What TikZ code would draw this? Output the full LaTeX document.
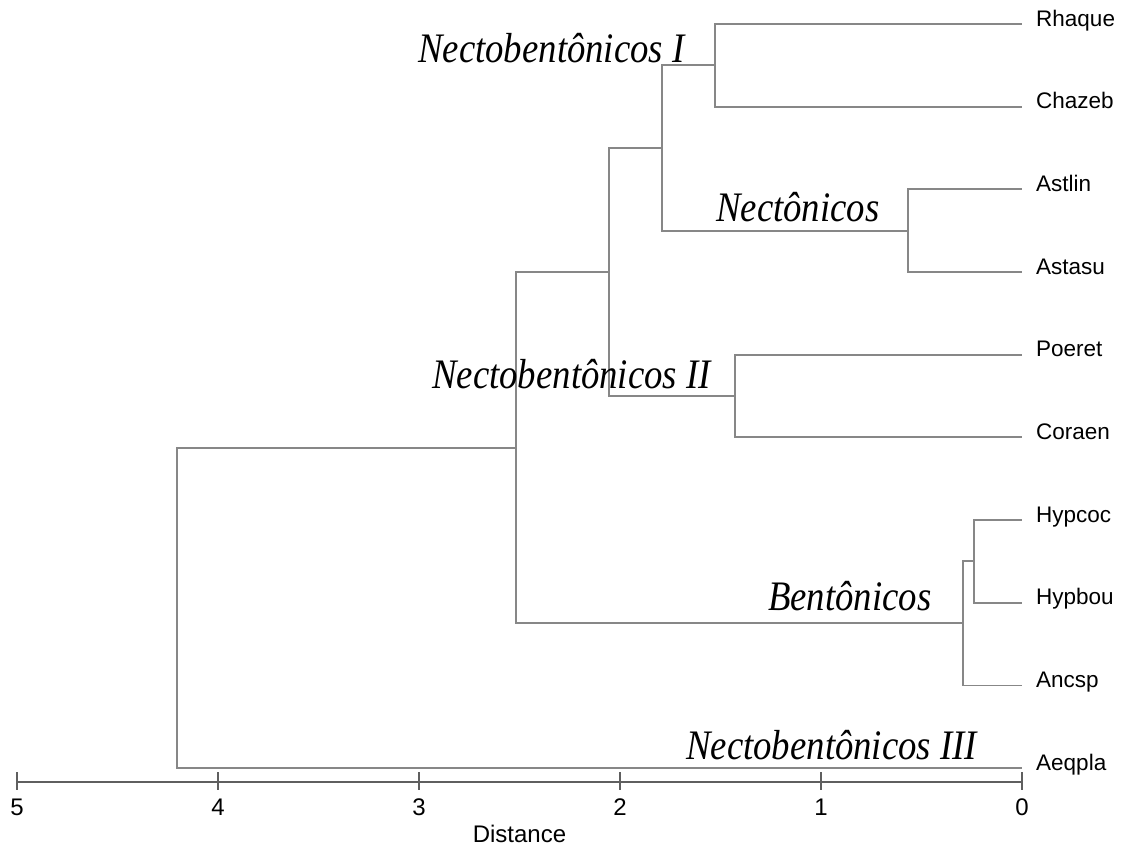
\documentclass[tikz,border=0pt]{standalone}
\usepackage{fontspec}
\setmainfont{Liberation Serif}
\setsansfont{Liberation Sans}
\usetikzlibrary{positioning, calc}
\definecolor{treegray}{RGB}{135,135,135}
\definecolor{axisgray}{RGB}{95,95,95}
\tikzstyle{branch}=[line width=1.7pt, draw=treegray]
\tikzstyle{axis}=[line width=1.8pt, draw=axisgray]
\tikzstyle{leaf label}=[font=\sffamily\fontsize{22.5}{22.5}\selectfont, inner sep=0pt, anchor=mid west, xshift=14pt]
\tikzstyle{group label}=[font=\itshape\fontsize{42}{42}\selectfont, inner sep=0pt, anchor=base west]
\tikzstyle{tick label}=[font=\sffamily\fontsize{24}{24}\selectfont, inner sep=0pt]
\newcommand{\narrowtext}[1]{\scalebox{0.875}[1]{#1}}

\begin{document}
\begin{tikzpicture}[x=1pt, y=-1pt]
        \useasboundingbox (0,0) rectangle (1123,847);

        % Leaves
        \foreach \name [count=\i from 0] in {Rhaque, Chazeb, Astlin, Astasu, Poeret, Coraen, Hypcoc, Hypbou, Ancsp, Aeqpla} {
            \coordinate (leaf \i) at (1022, {24 + 82.667*\i});
            \node[leaf label] (\name) at (leaf \i) {\name};
        }

        % Joins
        \coordinate (rhaque chazeb) at (715, 65.33);
        \coordinate (astlin astasu) at (908, 230.67);
        \coordinate (top pair) at (662, 148);
        \coordinate (poeret coraen) at (735, 396);
        \coordinate (upper group) at (609, 272);
        \coordinate (hypcoc hypbou) at (974, 561.33);
        \coordinate (bentonicos) at (963, 623.33);
        \coordinate (main group) at (516, 447.67);
        \coordinate (root) at (177, 607.83);

        \def\links{rhaque chazeb/leaf 0, rhaque chazeb/leaf 1, astlin astasu/leaf 2, astlin astasu/leaf 3,
            top pair/rhaque chazeb, top pair/astlin astasu, poeret coraen/leaf 4, poeret coraen/leaf 5,
            upper group/top pair, upper group/poeret coraen, hypcoc hypbou/leaf 6, hypcoc hypbou/leaf 7,
            bentonicos/hypcoc hypbou, bentonicos/leaf 8, main group/upper group, main group/bentonicos,
            root/main group, root/leaf 9}
        \foreach \p/\c in \links {
            \draw[branch] (\p) |- (\c);
        }

        % Group names
        \node[group label] (nectob one) at (418, 62) {\narrowtext{Nectobentônicos I}};
        \node[group label] (nectonicos) at (716, 221) {\narrowtext{Nectônicos}};
        \node[group label] (nectob two) at (432, 388) {\narrowtext{Nectobentônicos II}};
        \node[group label] (bentonicos label) at (768, 610) {\narrowtext{Bentônicos}};
        \node[group label] (nectob three) at (686, 759) {\narrowtext{Nectobentônicos III}};

        % Distance axis
        \foreach \d in {0,...,5} {
            \coordinate (tick \d) at ({1022 - 201*\d}, 782);
            \draw[axis] ([yshift=10pt]tick \d) -- ([yshift=-8pt]tick \d) node[tick label, below=8pt] {\d};
        }
        \draw[axis] (tick 5) -- (tick 0);
        \node[tick label, below=43pt] (distance) at ($(tick 2)!0.5!(tick 3)$) {Distance};

    \end{tikzpicture}
\end{document}
